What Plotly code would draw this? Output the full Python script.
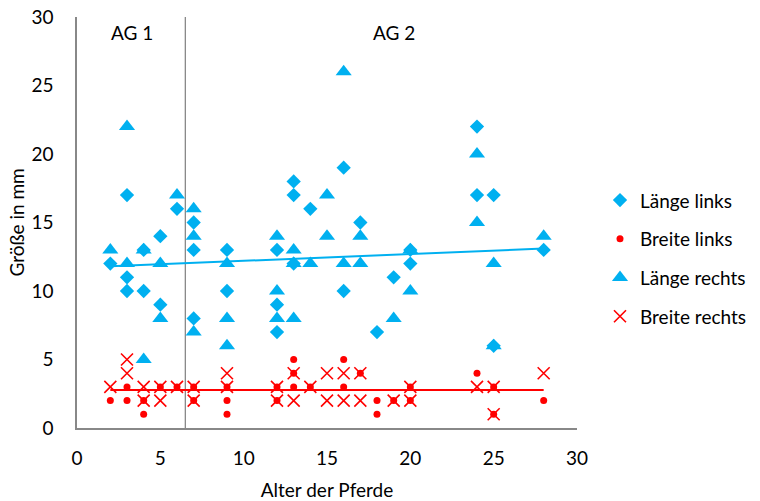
import plotly.graph_objects as go

# ---- data ----
age_laenge_links = [2, 3, 3, 3, 4, 4, 5, 5, 6, 7, 7, 7, 9, 9, 12, 12, 12, 13, 13, 13, 14, 16, 16, 17, 18, 19, 20, 20, 24, 24, 25, 25, 28]
laenge_links     = [12, 17, 11, 10, 13, 10, 14, 9, 16, 15, 13, 8, 13, 10, 13, 9, 7, 18, 17, 12, 16, 19, 10, 15, 7, 11, 13, 12, 22, 17, 17, 6, 13]

age_breite_links = [2, 3, 3, 4, 4, 5, 6, 7, 7, 9, 9, 9, 12, 12, 13, 13, 13, 14, 16, 16, 17, 18, 18, 19, 20, 20, 24, 25, 25, 28]
breite_links     = [2, 3, 2, 2, 1, 3, 3, 3, 2, 3, 2, 1, 3, 2, 5, 4, 3, 3, 5, 3, 4, 2, 1, 2, 3, 2, 4, 3, 1, 2]

age_laenge_rechts = [2, 3, 3, 4, 4, 5, 5, 6, 7, 7, 7, 9, 9, 9, 12, 12, 12, 13, 13, 13, 14, 15, 15, 16, 16, 17, 17, 19, 20, 20, 24, 24, 25, 25, 28]
laenge_rechts     = [13, 22, 12, 13, 5, 12, 8, 17, 16, 14, 7, 12, 8, 6, 14, 10, 8, 13, 12, 8, 12, 17, 14, 26, 12, 14, 12, 8, 13, 10, 20, 15, 12, 6, 14]

age_breite_rechts = [2, 3, 3, 4, 4, 5, 5, 6, 7, 7, 9, 9, 12, 12, 13, 13, 14, 15, 15, 16, 16, 17, 17, 19, 20, 20, 24, 25, 25, 28]
breite_rechts     = [3, 5, 4, 3, 2, 3, 2, 3, 3, 2, 4, 3, 3, 2, 4, 2, 3, 4, 2, 4, 2, 4, 2, 2, 3, 2, 3, 3, 1, 4]

trend_age    = [2, 28]
trend_laenge = [11.8, 13.1]
trend_breite = [2.78, 2.78]

group_split = 6.5
group_labels = ["AG 1", "AG 2"]
group_label_x = [3.3, 19]
group_label_y = 28.9

x_ticks = [0, 5, 10, 15, 20, 25, 30]
y_ticks = [0, 5, 10, 15, 20, 25, 30]

BLUE = "#00B0F0"
RED = "#FF0000"
FONT = "Lato"
FS = 19

fig = go.Figure()

fig.add_trace(go.Scatter(x=trend_age, y=trend_laenge, mode="lines",
                         line=dict(color=BLUE, width=2), showlegend=False, hoverinfo="skip"))
fig.add_trace(go.Scatter(x=trend_age, y=trend_breite, mode="lines",
                         line=dict(color=RED, width=2), showlegend=False, hoverinfo="skip"))

fig.add_trace(go.Scatter(x=age_laenge_links, y=laenge_links, mode="markers", name="Länge links",
                         legendgroup="a",
                         marker=dict(symbol="diamond", size=11, color=BLUE, line=dict(width=0))))
fig.add_trace(go.Scatter(x=age_breite_links, y=breite_links, mode="markers", name="Breite links",
                         legendgroup="b",
                         marker=dict(symbol="circle", size=7, color=RED, line=dict(width=0))))
fig.add_trace(go.Scatter(x=age_laenge_rechts, y=laenge_rechts, mode="markers", name="Länge rechts",
                         legendgroup="c",
                         marker=dict(symbol="triangle-up", size=14, color=BLUE, line=dict(width=0))))
fig.add_trace(go.Scatter(x=age_breite_rechts, y=breite_rechts, mode="markers", name="Breite rechts",
                         legendgroup="d",
                         marker=dict(symbol="x-thin-open", size=12, color=RED,
                                     line=dict(width=1.6, color=RED))))

fig.add_shape(type="line", x0=group_split, x1=group_split, y0=0, y1=30, xref="x", yref="y",
              line=dict(color="#888888", width=1.3), layer="below")

for lbl, gx in zip(group_labels, group_label_x):
    fig.add_annotation(x=gx, y=group_label_y, text=lbl, showarrow=False,
                       font=dict(family=FONT, size=FS, color="#000000"))

# y-axis title as rotated annotation (placed like the reference)
fig.add_annotation(x=-0.122, y=0.5, xref="paper", yref="paper", text="Größe in mm",
                   textangle=-90, showarrow=False, xanchor="center", yanchor="middle",
                   font=dict(family=FONT, size=FS, color="#000000"))

fig.update_layout(
    width=760, height=501,
    margin=dict(l=77, r=183, t=17, b=73, autoexpand=False),
    plot_bgcolor="white", paper_bgcolor="white",
    font=dict(family=FONT, size=FS, color="#000000"),
    legend=dict(x=1.046, y=0.413, xanchor="left", yanchor="middle",
                tracegroupgap=11, font=dict(family=FONT, size=FS),
                bgcolor="rgba(0,0,0,0)"),
    showlegend=True,
)
fig.update_xaxes(range=[0, 30], tickvals=x_ticks, showgrid=False, zeroline=False,
                 showline=True, linecolor="#888888", linewidth=1.5, ticks="",
                 automargin=False,
                 ticklabelstandoff=12, tickfont=dict(size=FS),
                 title=dict(text="Alter der Pferde", font=dict(size=FS), standoff=16))
fig.update_yaxes(range=[0, 30], tickvals=y_ticks, showgrid=False, zeroline=False,
                 showline=True, linecolor="#888888", linewidth=1.5, ticks="",
                 automargin=False,
                 ticklabelstandoff=18, tickfont=dict(size=FS))

fig.write_html("out.html", config={"displayModeBar": False},
               post_script="document.body.style.margin='0';")
